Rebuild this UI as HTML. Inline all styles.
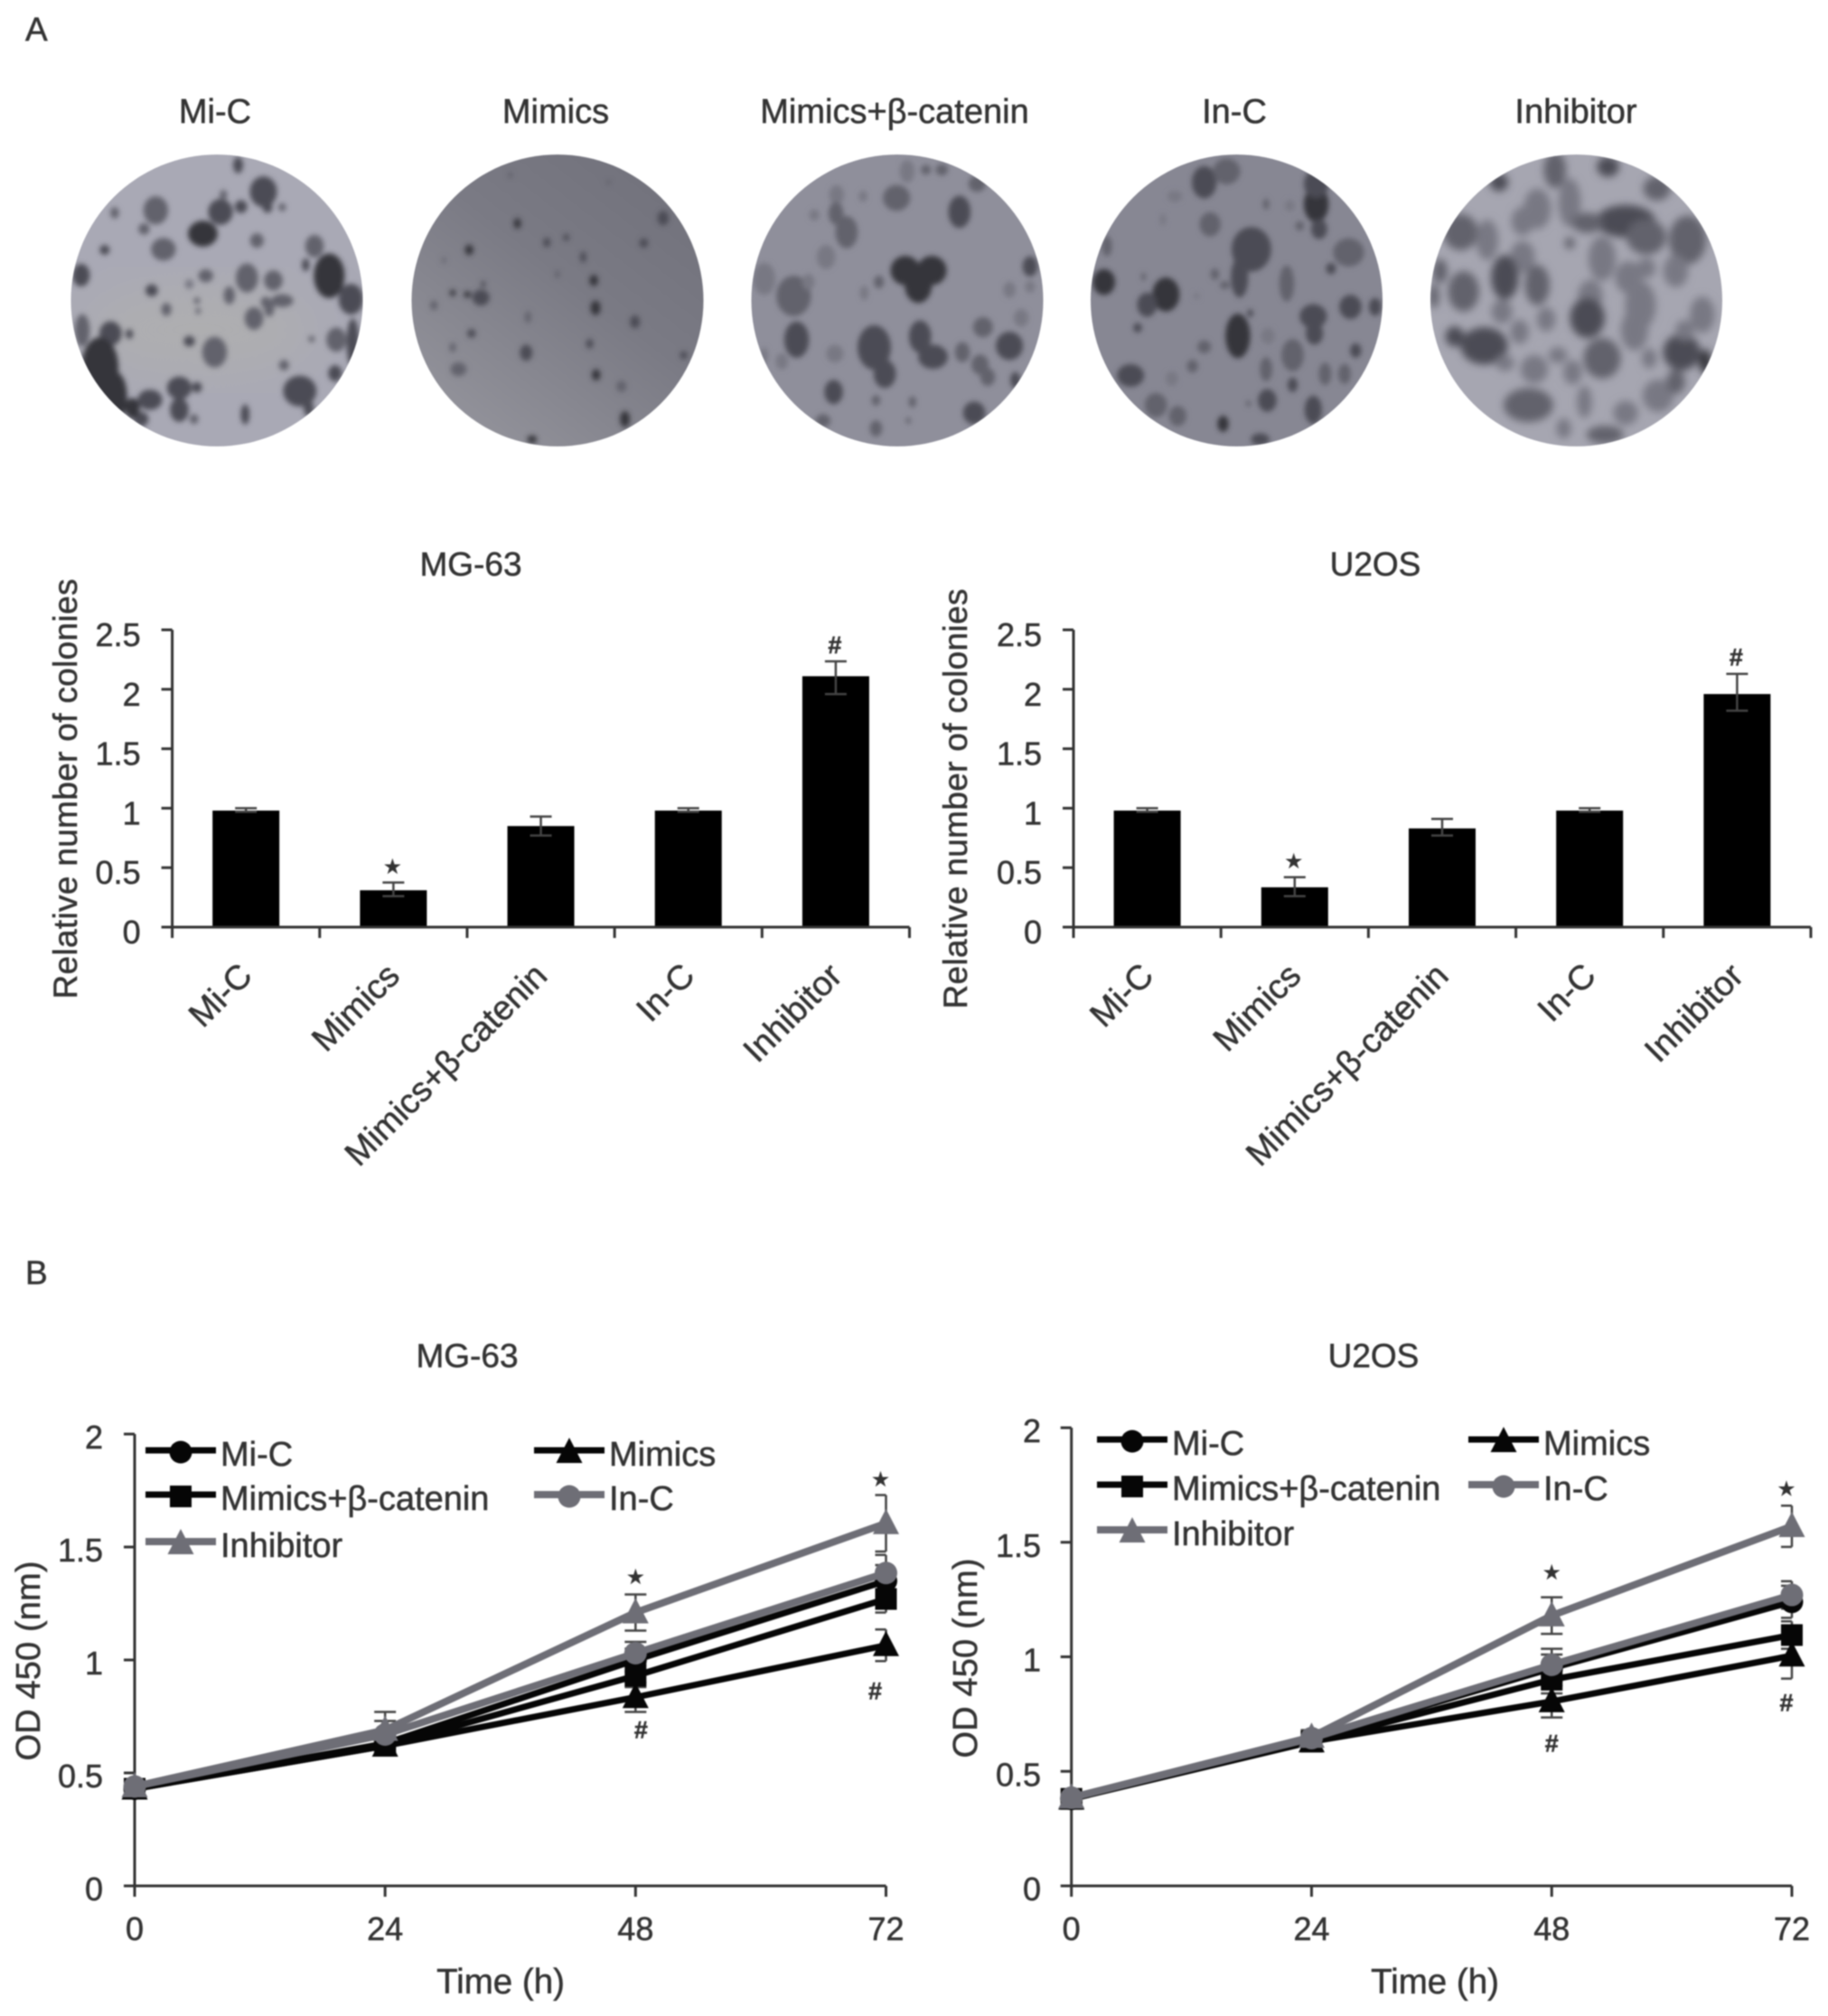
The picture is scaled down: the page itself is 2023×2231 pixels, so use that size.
<!DOCTYPE html>
<html lang="en">
<head>
<meta charset="utf-8">
<title>Colony formation and CCK-8 assays</title>
<style>
html,body{margin:0;padding:0;background:#fff;width:2023px;height:2231px;overflow:hidden}
svg{display:block}
text{font-family:"Liberation Sans",sans-serif;fill:#333;stroke:#333;stroke-width:.5px}
#figure-root{filter:blur(0.8px)}
</style>
</head>
<body>
<svg id="figure" xmlns="http://www.w3.org/2000/svg" width="2023" height="2231" viewBox="0 0 2023 2231">
<defs>
<filter id="soft" x="-10%" y="-10%" width="120%" height="120%"><feGaussianBlur stdDeviation="3"/></filter>
<filter id="softest" x="-10%" y="-10%" width="120%" height="120%"><feGaussianBlur stdDeviation="4.5"/></filter>
<filter id="softer" x="-20%" y="-20%" width="140%" height="140%"><feGaussianBlur stdDeviation="28"/></filter>
<linearGradient id="dish2-bg" x1="0.95" y1="0.1" x2="0.25" y2="1">
<stop offset="0" stop-color="#71717b"/><stop offset="0.45" stop-color="#7a7a84"/><stop offset="1" stop-color="#93939b"/>
</linearGradient>
</defs>
<rect width="2023" height="2231" fill="#fff"/>
<g id="figure-root">
<text x="28" y="45" font-size="37">A</text>
<text x="28" y="1421" font-size="37">B</text>

<text x="238" y="136" font-size="38" text-anchor="middle">Mi-C</text>
<text x="615" y="136" font-size="38" text-anchor="middle">Mimics</text>
<text x="990" y="136" font-size="38" text-anchor="middle">Mimics+β-catenin</text>
<text x="1366" y="136" font-size="38" text-anchor="middle">In-C</text>
<text x="1744" y="136" font-size="38" text-anchor="middle">Inhibitor</text>
<g id="dishes"></g>

<text x="521" y="637" font-size="37" text-anchor="middle">MG-63</text>
<text x="1522" y="637" font-size="37" text-anchor="middle">U2OS</text>
<text transform="translate(85 873) rotate(-90)" font-size="37" text-anchor="middle" textLength="465">Relative number of colonies</text>
<text transform="translate(1070 884) rotate(-90)" font-size="37" text-anchor="middle" textLength="465">Relative number of colonies</text>
<g id="bar-mg63"></g>
<g id="bar-u2os"></g>

<text x="517" y="1513" font-size="37" text-anchor="middle">MG-63</text>
<text x="1520" y="1513" font-size="37" text-anchor="middle">U2OS</text>
<text transform="translate(44 1838) rotate(-90)" font-size="38" text-anchor="middle" textLength="221">OD 450 (nm)</text>
<text transform="translate(1081 1835) rotate(-90)" font-size="38" text-anchor="middle" textLength="221">OD 450 (nm)</text>
<text x="554" y="2206" font-size="38.5" text-anchor="middle">Time (h)</text>
<text x="1588" y="2206" font-size="38.5" text-anchor="middle">Time (h)</text>
<g id="line-mg63"></g>
<g id="line-u2os"></g>
</g>
</svg>
<script>
/* ---------- bar chart data ---------- */
const barCategories = ['Mi-C', 'Mimics', 'Mimics+β-catenin', 'In-C', 'Inhibitor'];
const barTickValues = [0, 0.5, 1, 1.5, 2, 2.5];
const mg63BarValues = [0.98, 0.31, 0.85, 0.98, 2.11];
const mg63BarErrHigh = [1.0, 0.375, 0.93, 1.0, 2.235];
const mg63BarErrLow = [0.97, 0.26, 0.77, 0.97, 1.96];
const mg63BarMarks = ['', '★', '', '', '#'];
const u2osBarValues = [0.98, 0.335, 0.83, 0.98, 1.96];
const u2osBarErrHigh = [1.0, 0.42, 0.91, 1.0, 2.13];
const u2osBarErrLow = [0.97, 0.26, 0.77, 0.97, 1.82];
const u2osBarMarks = ['', '★', '', '', '#'];

/* ---------- line chart data ---------- */
const timeHours = [0, 24, 48, 72];
const odTickValues = [0, 0.5, 1, 1.5, 2];
const seriesNames = ['Mi-C', 'Mimics', 'Mimics+β-catenin', 'In-C', 'Inhibitor'];
const mg63MiC = [0.43, 0.63, 1.0, 1.35];
const mg63Mimics = [0.43, 0.62, 0.835, 1.065];
const mg63Catenin = [0.43, 0.62, 0.93, 1.27];
const mg63InC = [0.44, 0.67, 1.03, 1.385];
const mg63Inhibitor = [0.44, 0.69, 1.21, 1.605];
const mg63MiCErr = [0.02, 0.03, 0.05, 0.07];
const mg63MimicsErr = [0.02, 0.03, 0.065, 0.07];
const mg63CateninErr = [0.02, 0.03, 0.05, 0.06];
const mg63InCErr = [0.02, 0.06, 0.05, 0.08];
const mg63InhibitorErr = [0.02, 0.08, 0.08, 0.125];
const u2osMiC = [0.38, 0.64, 0.95, 1.24];
const u2osMimics = [0.38, 0.63, 0.805, 1.005];
const u2osCatenin = [0.38, 0.63, 0.9, 1.095];
const u2osInC = [0.385, 0.645, 0.965, 1.27];
const u2osInhibitor = [0.385, 0.65, 1.18, 1.57];
const u2osMiCErr = [0.02, 0.03, 0.06, 0.07];
const u2osMimicsErr = [0.02, 0.03, 0.07, 0.1];
const u2osCateninErr = [0.02, 0.03, 0.06, 0.06];
const u2osInCErr = [0.02, 0.03, 0.07, 0.06];
const u2osInhibitorErr = [0.02, 0.03, 0.08, 0.09];

const SVGNS = 'http://www.w3.org/2000/svg';
const BLACK = '#060606';
const GRAY = '#6e6e76';
const AXIS = '#333';

function mk(parent, tag, attrs) {
  const node = document.createElementNS(SVGNS, tag);
  for (const k in attrs) node.setAttribute(k, attrs[k]);
  parent.appendChild(node);
  return node;
}
function txt(parent, x, y, str, size, anchor) {
  const node = mk(parent, 'text', {x: x, y: y, 'font-size': size, 'text-anchor': anchor || 'start'});
  node.textContent = str;
  return node;
}
function significance(parent, x, y, mark) {
  const star = mark === '★';
  const node = txt(parent, x, y, mark, star ? 22 : 27, 'middle');
  if (!star) node.setAttribute('font-weight', 'bold');
  return node;
}

/* ---------- colony dishes (photo approximation) ---------- */
const blobShades = ['#34343a', '#4c4c55', '#62626c', '#787883'];
const dishBlobs = [
 {cx:240, fill:'#a9a9b5', frame:1, patch:'#aeaeb0', blur:'soft', grow:1, blobs:[
  [448,615,22,38,1],[265,675,20,35,2],[375,680,20,32,1],[410,663,10,16,1],[345,750,24,32,0],[437,772,11,18,2],[535,790,15,28,2],[278,800,20,28,2],[178,802,8,12,1],[195,683,7,14,2],[245,735,9,14,2],[380,625,6,12,2],[455,665,8,14,1],[480,665,6,10,2],[405,530,8,20,1],[138,883,14,28,1],[258,932,10,15,1],[350,885,12,16,2],[322,912,7,12,3],[420,892,18,36,2],[465,900,15,25,2],[520,850,6,16,1],[560,885,25,55,0],[597,960,20,38,1],[390,948,9,22,2],[480,965,18,16,2],[452,970,8,14,2],[458,990,8,20,2],[432,1022,15,28,2],[283,993,8,16,2],[335,965,5,8,2],[337,998,4,8,2],[188,1070,18,30,1],[220,1072,6,12,1],[322,1095,9,13,1],[365,1130,20,38,2],[572,1090,16,30,2],[530,1088,5,8,2],[483,1172,8,13,2],[570,1198,11,20,1],[510,1255,27,38,1],[305,1245,20,28,1],[335,1243,8,13,1],[255,1283,20,25,1],[305,1315,15,30,1],[417,1330,7,25,1],[330,1345,7,12,2],[240,1345,12,18,1],[170,1180,30,75,0],[140,1060,12,40,2],[195,1270,20,60,0],[600,1100,10,60,1],[225,1310,12,25,0],[525,1310,8,20,1]
 ]},
 {cx:617, fill:'url(#dish2-bg)', frame:1, blur:'soft', grow:1, blobs:[
  [880,717,6,13,0],[930,778,6,12,1],[963,762,5,9,1],[798,802,7,13,0],[1095,780,7,12,1],[992,825,5,14,1],[948,880,4,10,2],[1128,700,9,18,1],[1010,900,7,14,0],[770,940,5,8,0],[795,945,6,8,0],[818,955,14,20,1],[822,912,4,8,1],[738,980,6,12,2],[1013,988,8,18,0],[898,1018,5,15,2],[1080,1033,8,16,1],[802,1070,7,11,1],[1003,1103,6,12,1],[895,1132,10,20,1],[770,1115,5,12,2],[780,1185,13,17,2],[1163,1140,6,10,1],[1014,1203,7,14,0],[1057,1240,8,14,2],[1063,1345,8,20,0],[905,1410,8,10,0],[868,562,4,8,2],[1035,585,4,6,2],[755,835,3,8,2]
 ]},
 {cx:993, fill:'#8f8f9b', frame:1, blur:'soft', grow:1, blobs:[
  [1543,550,12,28,3],[1525,635,22,32,2],[1423,625,12,24,3],[1468,630,7,14,3],[1422,685,12,28,2],[1440,745,18,40,2],[1385,690,8,14,3],[1405,825,15,30,3],[1300,895,18,40,3],[1350,950,28,50,2],[1375,905,10,20,3],[1495,905,8,16,2],[1470,940,7,18,3],[1355,1090,20,45,1],[1487,1115,27,55,1],[1505,1200,18,35,1],[1420,1135,14,22,3],[1418,1258,15,30,1],[1490,1285,7,13,2],[1490,1375,10,20,2],[1565,1080,18,40,1],[1587,1145,24,30,1],[1540,868,24,36,0],[1585,868,24,36,0],[1562,915,22,44,0],[1632,680,18,40,1],[1752,855,12,25,1],[1717,930,10,20,3],[1752,920,8,15,3],[1672,1050,16,25,2],[1737,1020,12,22,3],[1717,1110,22,35,1],[1637,1130,12,25,2],[1667,1170,14,25,2],[1680,1210,12,22,2],[1727,1220,8,20,1],[1657,1325,18,28,1],[1662,590,14,20,2],[1575,545,8,12,2],[1602,545,10,14,2],[1552,1290,6,14,2],[1330,1160,10,20,3],[1300,1140,6,20,3],[1400,1350,12,16,2],[1545,1350,4,8,2]
 ]},
 {cx:1368.5, fill:'#878793', frame:2, blur:'soft', grow:1, blobs:[
  [510,585,20,40,1],[548,550,22,32,2],[700,655,20,45,0],[700,590,20,35,1],[705,735,13,25,1],[672,725,7,12,2],[520,720,17,30,2],[460,630,12,14,3],[440,705,5,15,3],[655,660,8,14,3],[590,800,32,55,1],[615,655,5,14,2],[755,810,25,35,2],[725,862,8,14,1],[528,880,7,14,2],[570,890,14,50,1],[650,910,12,45,2],[545,915,8,10,2],[340,905,18,32,0],[445,945,22,42,0],[413,978,16,30,1],[407,888,4,10,2],[345,790,8,25,2],[497,950,5,8,3],[758,985,18,30,1],[800,985,10,22,1],[695,1015,22,30,1],[697,1070,14,28,1],[588,1005,5,10,1],[397,1052,7,12,1],[567,1078,20,55,0],[618,1078,11,20,3],[510,1113,11,16,2],[660,1140,18,40,2],[767,1125,9,18,1],[490,1175,9,16,2],[385,1205,22,28,1],[455,1215,10,18,3],[615,1185,10,30,2],[715,1200,10,28,2],[748,1200,10,25,2],[660,1235,8,18,1],[617,1285,15,28,1],[428,1300,18,30,2],[465,1335,14,25,2],[695,1315,14,35,1],[542,1360,9,20,0],[605,1410,15,15,1],[585,1295,4,8,2]
 ]},
 {cx:1744.5, fill:'#a6a6b1', frame:2, blur:'softest', grow:1, blobs:[
  [1105,545,18,45,2],[1195,535,18,25,1],[1278,605,22,30,2],[1010,585,15,22,1],[1130,650,18,60,3],[1075,670,22,50,3],[1225,710,48,40,1],[1160,715,25,25,2],[1260,760,32,44,2],[1330,770,30,60,2],[945,745,28,45,2],[990,770,18,50,3],[1050,710,18,35,3],[1185,830,22,55,3],[1050,825,20,40,3],[1130,780,8,15,2],[1230,890,22,40,3],[1310,870,20,40,3],[1260,860,15,25,3],[1020,890,22,55,1],[1075,915,20,50,2],[950,935,25,50,2],[910,870,12,30,2],[1165,950,20,40,3],[1015,1000,17,30,3],[1160,1020,28,50,1],[1090,1025,15,30,3],[1250,980,25,60,3],[1240,1060,22,50,3],[1355,1010,20,45,3],[935,1080,15,25,1],[985,1110,38,46,1],[1045,1065,15,30,3],[1110,1140,15,20,3],[1185,1150,30,50,2],[1320,1130,30,45,1],[1360,1160,10,30,0],[1070,1185,22,35,3],[1135,1195,15,30,3],[1265,1150,12,25,3],[1325,1060,15,25,3],[1020,1165,15,20,3],[1060,1300,40,42,2],[1155,1290,12,40,3],[1280,1270,25,40,3],[1225,1325,20,30,3],[1310,1225,15,30,2],[1190,1395,30,22,2],[1120,1375,12,25,3],[900,950,8,30,2]
 ]}
];
(function drawDishes() {
  const host = document.getElementById('dishes');
  dishBlobs.forEach(function (d, i) {
    const clip = mk(document.querySelector('defs'), 'clipPath', {id: 'dish-clip-' + i});
    mk(clip, 'circle', {cx: d.cx, cy: 332.5, r: 161.5});
    const g = mk(host, 'g', {'clip-path': 'url(#dish-clip-' + i + ')'});
    
    
    const base = mk(g, 'rect', {x: d.cx - 165, y: 168, width: 330, height: 330, fill: d.fill});
    
    
    if (d.patch) {
      const patch = mk(g, 'ellipse', {cx: d.cx - 20, cy: 365, rx: 130, ry: 50, fill: d.patch, filter: 'url(#softer)'});
      
      
    }
    const soft = mk(g, 'g', {filter: 'url(#' + d.blur + ')'});
    const tx = d.frame === 1 ? 0 : 1000;
    const sx = d.frame === 1 ? 1 / 1.537 : 1 / 1.533;
    const inner = mk(soft, 'g', {transform: 'translate(' + tx + ' 0) scale(' + sx + ' ' + (1 / 2.9) + ')'});
    d.blobs.forEach(function (b) {
      const c = mk(inner, 'ellipse', {cx: b[0], cy: b[1], rx: b[2] * 1.05 * d.grow, ry: b[3] * 1.3 * d.grow, fill: blobShades[b[4]]});
      
      
    });
  });
})();

/* ---------- bar charts ---------- */
function drawBarChart(hostId, frame, values, errHigh, errLow, marks) {
  const host = document.getElementById(hostId);
  const xBand = function (i) { return frame.x0 + (frame.x1 - frame.x0) * (i + 0.5) / barCategories.length; };
  const xEdge = function (i) { return frame.x0 + (frame.x1 - frame.x0) * i / barCategories.length; };
  const y = function (v) { return frame.y0 - v * (frame.y0 - frame.y1) / 2.5; };

  values.forEach(function (v, i) {
    const bar = mk(host, 'rect', {x: xBand(i) - 37, y: y(v), width: 74, height: frame.y0 - y(v), fill: '#000'});
    
    
    const d = 'M' + (xBand(i) - 12) + ' ' + y(errHigh[i]) + 'H' + (xBand(i) + 12) + 'M' + xBand(i) + ' ' + y(errHigh[i]) + 'V' + y(errLow[i]) + 'M' + (xBand(i) - 12) + ' ' + y(errLow[i]) + 'H' + (xBand(i) + 12);
    const whisker = mk(host, 'path', {d: d, fill: 'none', stroke: '#444', 'stroke-width': 2.5});
    
    
    if (marks[i]) {
      const m = significance(host, xBand(i) - 1, y(errHigh[i]) - (marks[i] === '★' ? 10 : 9), marks[i]);
      
      
    }
    const lab = txt(host, 0, 0, barCategories[i], 38, 'end');
    lab.setAttribute('transform', 'translate(' + (xBand(i) + 9) + ' ' + (frame.y0 + 56) + ') rotate(-45)');
    
    
  });

  const axis = mk(host, 'path', {d: 'M' + frame.x0 + ' ' + frame.y1 + 'V' + frame.y0 + 'H' + frame.x1, fill: 'none', stroke: AXIS, 'stroke-width': 3});
  
  

  barTickValues.forEach(function (t) {
    const tick = mk(host, 'line', {x1: frame.x0 - 12, x2: frame.x0, y1: y(t), y2: y(t), stroke: AXIS, 'stroke-width': 3});
    
    
    const lab = txt(host, frame.x0 - 35, y(t) + 18, String(t), 36, 'end');
    
    
  });
  for (let i = 0; i <= barCategories.length; i++) {
    const tick = mk(host, 'line', {x1: xEdge(i), x2: xEdge(i), y1: frame.y0, y2: frame.y0 + 12, stroke: AXIS, 'stroke-width': 3});
    
    
  }
}
drawBarChart('bar-mg63', {x0: 190.6, x1: 1006.5, y0: 1026, y1: 697}, mg63BarValues, mg63BarErrHigh, mg63BarErrLow, mg63BarMarks);
drawBarChart('bar-u2os', {x0: 1188, x1: 2004, y0: 1026, y1: 697}, u2osBarValues, u2osBarErrHigh, u2osBarErrLow, u2osBarMarks);

/* ---------- line charts ---------- */
function drawMarker(parent, shape, cx, cy, color) {
  if (shape === 'circle') return mk(parent, 'circle', {cx: cx, cy: cy, r: 12.5, fill: color});
  if (shape === 'square') return mk(parent, 'rect', {x: cx - 12, y: cy - 12, width: 24, height: 24, fill: color});
  return mk(parent, 'path', {d: 'M' + cx + ' ' + (cy - 16) + 'L' + (cx + 14.5) + ' ' + (cy + 12) + 'H' + (cx - 14.5) + 'Z', fill: color});
}
const seriesShapes = ['circle', 'triangle', 'square', 'circle', 'triangle'];
const seriesColors = [BLACK, BLACK, BLACK, GRAY, GRAY];
const seriesWidths = [7, 7, 7, 8, 8];

function drawLineChart(hostId, frame, allValues, allErrors, anno, legend) {
  const host = document.getElementById(hostId);
  const x = function (h) { return frame.x0 + (h / 72) * (frame.x1 - frame.x0); };
  const y = function (v) { return frame.y0 - (v / 2) * (frame.y0 - frame.y1); };

  allValues.forEach(function (vals, s) {
    const errGroup = mk(host, 'g', {});
    
    
    vals.forEach(function (v, i) {
      const px = x(timeHours[i]);
      const hi = y(v + allErrors[s][i]);
      const lo = y(v - allErrors[s][i]);
      const left = Math.max(px - 12, frame.x0);
      const right = Math.min(px + 12, frame.x1);
      const e = mk(errGroup, 'path', {d: 'M' + left + ' ' + hi + 'H' + right + 'M' + px + ' ' + hi + 'V' + lo + 'M' + left + ' ' + lo + 'H' + right, fill: 'none', stroke: '#444', 'stroke-width': 2.5});
      
      
    });
  });

  const axis = mk(host, 'path', {d: 'M' + frame.x0 + ' ' + frame.y1 + 'V' + frame.y0 + 'H' + frame.x1, fill: 'none', stroke: AXIS, 'stroke-width': 3});
  
  

  odTickValues.forEach(function (t) {
    const tick = mk(host, 'line', {x1: frame.x0 - 12, x2: frame.x0, y1: y(t), y2: y(t), stroke: AXIS, 'stroke-width': 3});
    
    
    const lab = txt(host, frame.labelX, y(t) + 16, String(t), 36, 'end');
    
    
  });
  timeHours.forEach(function (h) {
    const tick = mk(host, 'line', {x1: x(h), x2: x(h), y1: frame.y0, y2: frame.y0 + 12, stroke: AXIS, 'stroke-width': 3});
    
    
    const lab = txt(host, x(h), 2147, String(h), 36, 'middle');
    
    
  });

  allValues.forEach(function (vals, s) {
    const pts = vals.map(function (v, i) { return x(timeHours[i]) + ',' + y(v); }).join(' ');
    const line = mk(host, 'polyline', {points: pts, fill: 'none', stroke: seriesColors[s], 'stroke-width': seriesWidths[s], 'stroke-linejoin': 'round'});
    
    
    vals.forEach(function (v, i) {
      const mark = drawMarker(host, seriesShapes[s], x(timeHours[i]), y(v), seriesColors[s]);
      
      
    });
  });

  anno.forEach(function (a) {
    const idx = timeHours.indexOf(a.hour);
    const v = allValues[a.series][idx];
    const err = allErrors[a.series][idx];
    const anchorY = a.mark === '★' ? y(v + err) : y(v - err);
    const m = significance(host, x(a.hour) + a.dx, anchorY + a.dy, a.mark);
    
    
  });

  seriesNames.forEach(function (name, s) {
    const pos = legend[s];
    const g = mk(host, 'g', {});
    
    
    const ln = mk(g, 'line', {x1: pos.x, x2: pos.x + 78, y1: pos.y, y2: pos.y, stroke: seriesColors[s], 'stroke-width': seriesWidths[s]});
    
    
    const mk2 = drawMarker(g, seriesShapes[s], pos.x + 39, pos.y + 2, seriesColors[s]);
    
    
    const t = txt(g, pos.x + 83, pos.y + 17, name, 38, 'start');
    
    
  });
}

drawLineChart('line-mg63',
  {x0: 149, x1: 980.5, y0: 2087, y1: 1587, labelX: 114},
  [mg63MiC, mg63Mimics, mg63Catenin, mg63InC, mg63Inhibitor],
  [mg63MiCErr, mg63MimicsErr, mg63CateninErr, mg63InCErr, mg63InhibitorErr],
  [{mark: '★', hour: 48, series: 4, dx: 0, dy: -12},
   {mark: '★', hour: 72, series: 4, dx: -6, dy: -10},
   {mark: '#', hour: 48, series: 1, dx: 6, dy: 29},
   {mark: '#', hour: 72, series: 1, dx: -12, dy: 42}],
  [{x: 161, y: 1605}, {x: 591, y: 1605}, {x: 161, y: 1654}, {x: 591, y: 1654}, {x: 161, y: 1706}]);

drawLineChart('line-u2os',
  {x0: 1185.7, x1: 1983, y0: 2087, y1: 1580, labelX: 1152},
  [u2osMiC, u2osMimics, u2osCatenin, u2osInC, u2osInhibitor],
  [u2osMiCErr, u2osMimicsErr, u2osCateninErr, u2osInCErr, u2osInhibitorErr],
  [{mark: '★', hour: 48, series: 4, dx: 0, dy: -20},
   {mark: '★', hour: 72, series: 4, dx: -6, dy: -11},
   {mark: '#', hour: 48, series: 1, dx: 0, dy: 38},
   {mark: '#', hour: 72, series: 1, dx: -6, dy: 36}],
  [{x: 1214, y: 1593}, {x: 1625, y: 1593}, {x: 1214, y: 1643}, {x: 1625, y: 1643}, {x: 1214, y: 1693}]);
</script>
</body>
</html>
